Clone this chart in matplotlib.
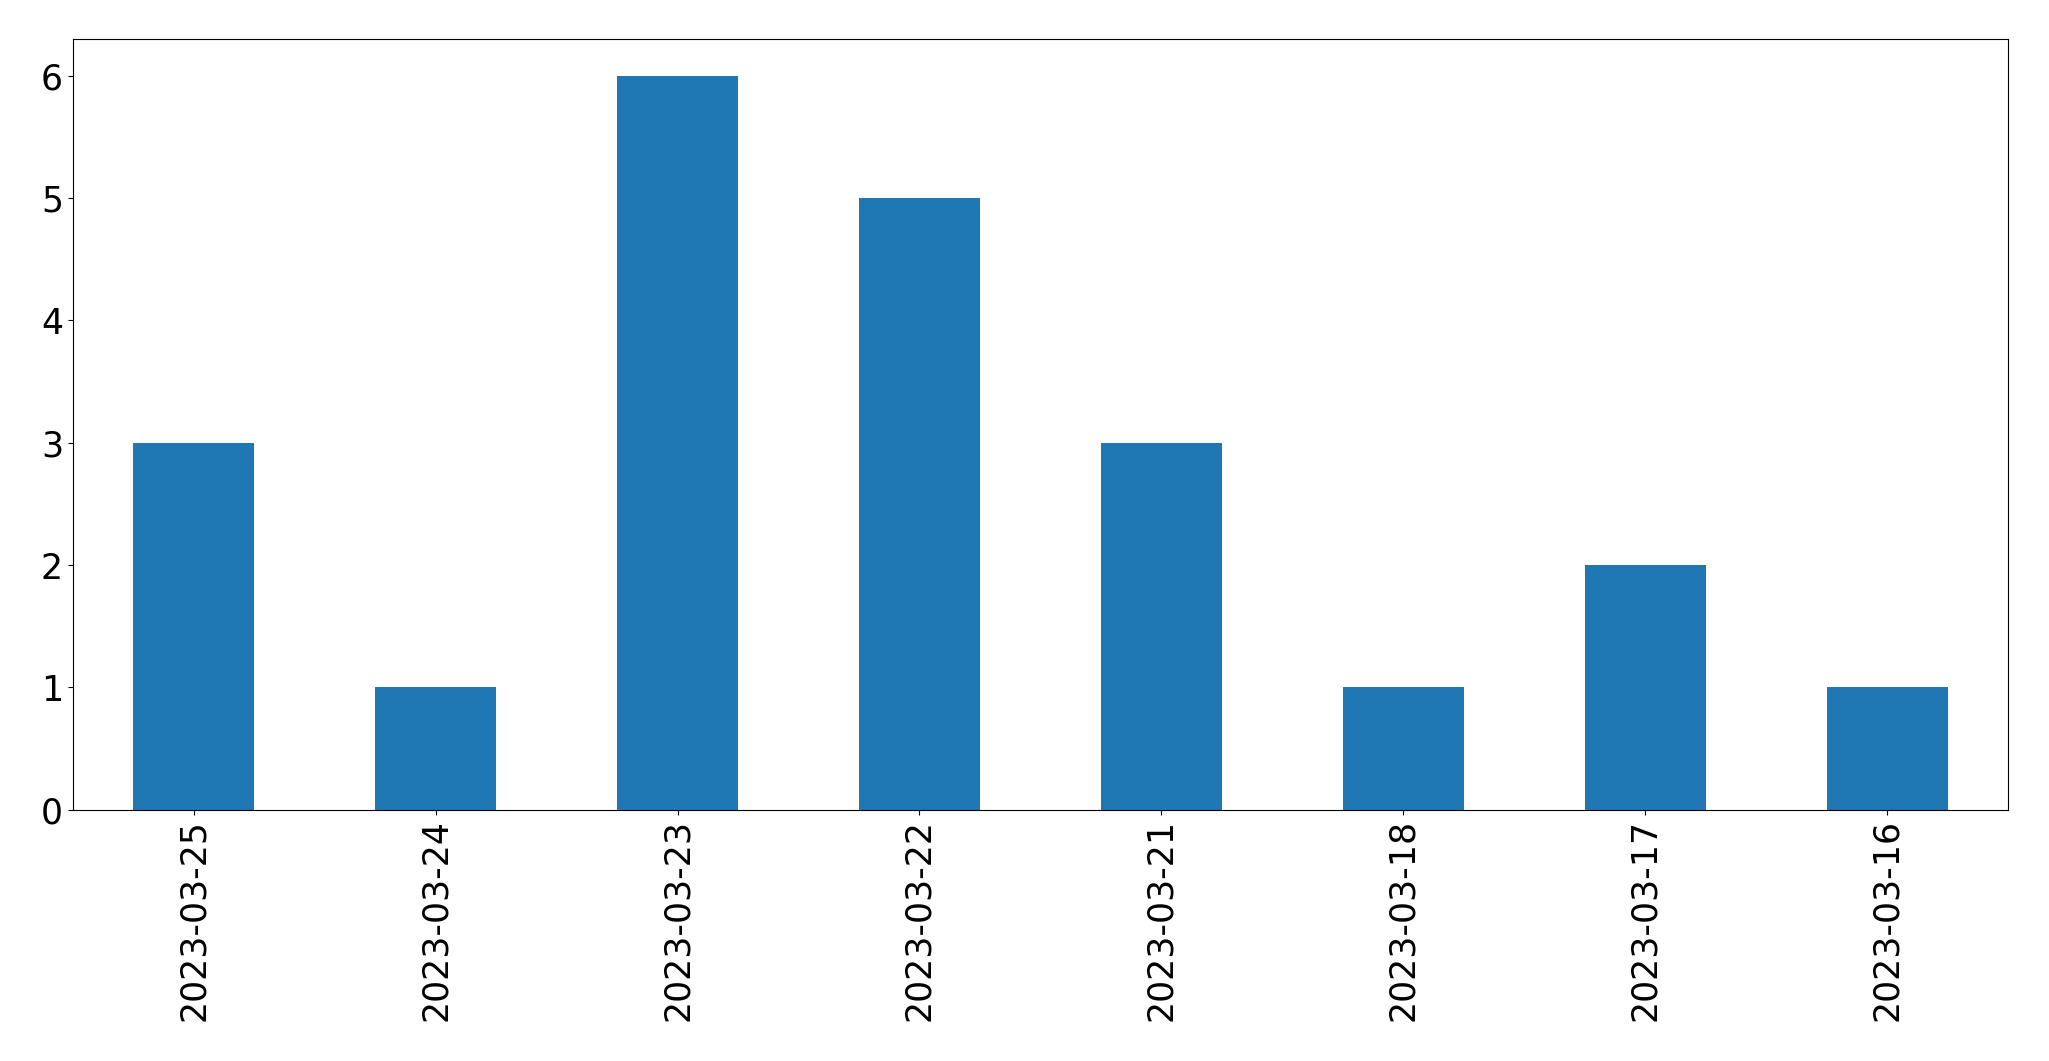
import matplotlib
matplotlib.use("Agg")
import matplotlib.pyplot as plt

dates = ["2023-03-25", "2023-03-24", "2023-03-23", "2023-03-22",
         "2023-03-21", "2023-03-18", "2023-03-17", "2023-03-16"]
counts = [3, 1, 6, 5, 3, 1, 2, 1]

fig = plt.figure(figsize=(20.49, 10.61), dpi=100)
ax = fig.add_axes([0.0355, 0.237, 0.9445, 0.726])
x = list(range(len(dates)))
ax.bar(x, counts, width=0.5, color="#1f77b4")
ax.set_xticks(x)
ax.set_xticklabels(dates, rotation=90)
ax.set_xlim(-0.5, len(dates) - 0.5)
ax.tick_params(axis="both", labelsize=25)
fig.savefig("out.png", dpi=100)
